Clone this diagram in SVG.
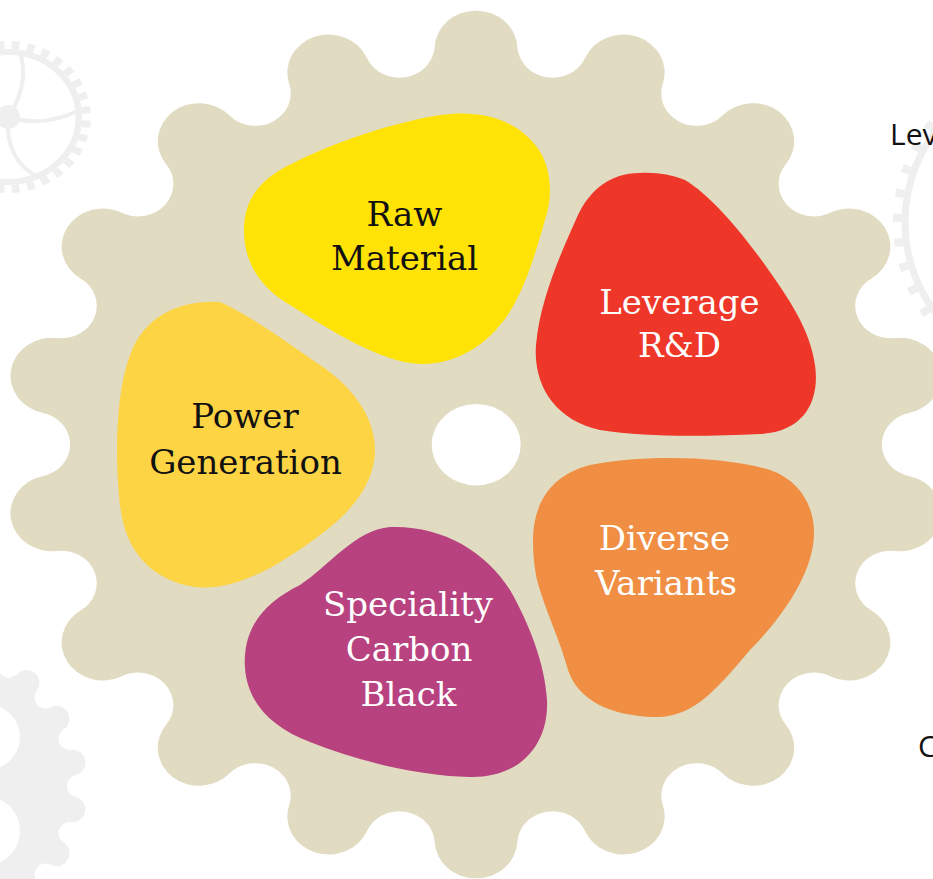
<svg xmlns="http://www.w3.org/2000/svg" width="933" height="879" viewBox="0 0 933 879">
<style>
.lbl{font-family:"DejaVu Serif","Liberation Serif",serif;font-size:34px;text-anchor:middle}
.dark{fill:#111111}
.light{fill:#ffffff}
.deco{fill:#EFEFEF}
.decoLine{fill:none;stroke:#EFEFEF}
.side{font-family:"Open Sans","Noto Sans",sans-serif;font-size:30px;fill:#111111}
</style>
<defs>
<path id="gearShape" d="M -37.95 -397.79 A 38 38 0 0 1 37.95 -397.79 A 32.5 32.5 0 0 0 100.39 -386.78 A 38 38 0 0 1 171.72 -360.82 A 32.5 32.5 0 0 0 226.62 -329.12 A 38 38 0 0 1 284.77 -280.33 A 32.5 32.5 0 0 0 325.52 -231.76 A 38 38 0 0 1 363.48 -166.03 A 32.5 32.5 0 0 0 385.16 -106.45 A 38 38 0 0 1 398.34 -31.70 A 32.5 32.5 0 0 0 398.34 31.70 A 38 38 0 0 1 385.16 106.45 A 32.5 32.5 0 0 0 363.48 166.03 A 38 38 0 0 1 325.52 231.76 A 32.5 32.5 0 0 0 284.77 280.33 A 38 38 0 0 1 226.62 329.12 A 32.5 32.5 0 0 0 171.72 360.82 A 38 38 0 0 1 100.39 386.78 A 32.5 32.5 0 0 0 37.95 397.79 A 38 38 0 0 1 -37.95 397.79 A 32.5 32.5 0 0 0 -100.39 386.78 A 38 38 0 0 1 -171.72 360.82 A 32.5 32.5 0 0 0 -226.62 329.12 A 38 38 0 0 1 -284.77 280.33 A 32.5 32.5 0 0 0 -325.52 231.76 A 38 38 0 0 1 -363.48 166.03 A 32.5 32.5 0 0 0 -385.16 106.45 A 38 38 0 0 1 -398.34 31.70 A 32.5 32.5 0 0 0 -398.34 -31.70 A 38 38 0 0 1 -385.16 -106.45 A 32.5 32.5 0 0 0 -363.48 -166.03 A 38 38 0 0 1 -325.52 -231.76 A 32.5 32.5 0 0 0 -284.77 -280.33 A 38 38 0 0 1 -226.62 -329.12 A 32.5 32.5 0 0 0 -171.72 -360.82 A 38 38 0 0 1 -100.39 -386.78 A 32.5 32.5 0 0 0 -37.95 -397.79 Z"/>
</defs>
<rect width="933" height="879" fill="#ffffff"/>

<g id="decor-top-left-gear">
  <g transform="translate(8,117) scale(1.09,1)">
    <circle r="65" class="decoLine" stroke-width="6"/>
    <circle r="72" class="decoLine" stroke-width="8" pathLength="32" stroke-dasharray="0.5 0.5" stroke-dashoffset="-0.25"/>
  </g>
  <circle cx="8" cy="117" r="12" class="deco"/>
  <path d="M 8 117 Q 30 85 20 52 M 8 117 Q 45 128 79 110 M 8 117 Q 5 160 38 177" class="decoLine" stroke-width="4"/>
</g>

<g id="decor-right-gear">
  <circle cx="1055" cy="222" r="150" class="decoLine" stroke-width="7"/>
  <circle cx="1055" cy="222" r="157" class="decoLine" stroke-width="10" pathLength="40" stroke-dasharray="0.33 0.67"/>
</g>

<g id="decor-bottom-left-gear">
  <use href="#gearShape" transform="translate(-60,786) scale(0.34)" class="deco"/>
  <circle cx="-12.5" cy="737" r="32.5" fill="#ffffff"/>
  <circle cx="-14.8" cy="831" r="34.8" fill="#ffffff"/>
</g>

<g id="side-texts">
  <text x="890" y="145" class="side">Lev</text>
  <text x="918" y="757" class="side">C</text>
</g>

<g id="main-gear">
  <use href="#gearShape" transform="translate(476,444.5) scale(1.088,1)" fill="#E1DBC1"/>
  <ellipse cx="476.2" cy="444.7" rx="44.5" ry="40.7" fill="#ffffff"/>
</g>

<g id="node-raw-material">
  <path d="M 244 230 C 244 205 255 185 280 170 C 320 148 380 125 440 115 C 490 108 525 125 542 155 C 552 175 552 200 545 220 C 535 255 522 300 500 325 C 480 350 450 365 420 364 C 380 362 330 330 290 305 C 262 288 244 265 244 230 Z" fill="#FFE307"/>
  <text x="404.5" y="226" class="lbl dark">Raw</text>
  <text x="404.5" y="270" class="lbl dark">Material</text>
</g>

<g id="node-leverage-rd">
  <path d="M 640 173 C 610 173 590 190 578 215 C 560 255 540 300 536 345 C 533 385 555 420 600 430 C 650 438 710 436 760 434 C 805 432 820 400 815 365 C 810 330 790 300 765 265 C 740 230 710 195 685 180 C 670 174 655 172 640 173 Z" fill="#EE3629"/>
  <text x="679.5" y="314" class="lbl light">Leverage</text>
  <text x="679.5" y="357" class="lbl light">R&amp;D</text>
</g>

<g id="node-power-generation">
  <path d="M 220 302 C 180 300 145 315 130 355 C 115 395 115 460 120 505 C 125 550 150 580 195 587 C 235 592 280 565 320 535 C 355 510 375 480 375 450 C 375 415 350 385 320 365 C 290 345 255 318 220 302 Z" fill="#FDD444"/>
  <text x="245" y="428" class="lbl dark">Power</text>
  <text x="245.5" y="474" class="lbl dark">Generation</text>
</g>

<g id="node-diverse-variants">
  <path d="M 533 540 C 533 505 550 475 590 465 C 640 455 720 455 770 470 C 805 482 818 515 813 545 C 808 580 780 620 750 650 C 720 685 695 718 655 717 C 610 716 578 700 568 670 C 560 640 545 610 537 580 C 534 565 533 553 533 540 Z" fill="#F08E43"/>
  <text x="664.5" y="550" class="lbl light">Diverse</text>
  <text x="666" y="595" class="lbl light">Variants</text>
</g>

<g id="node-speciality-carbon-black">
  <path d="M 390 527 C 440 525 485 550 510 590 C 530 625 545 665 547 700 C 549 745 520 778 470 777 C 420 776 360 762 310 742 C 265 725 242 695 245 655 C 248 620 270 600 300 585 C 330 565 355 530 390 527 Z" fill="#B8427F"/>
  <text x="408" y="616" class="lbl light">Speciality</text>
  <text x="409" y="661" class="lbl light">Carbon</text>
  <text x="408.5" y="706" class="lbl light">Black</text>
</g>
</svg>
